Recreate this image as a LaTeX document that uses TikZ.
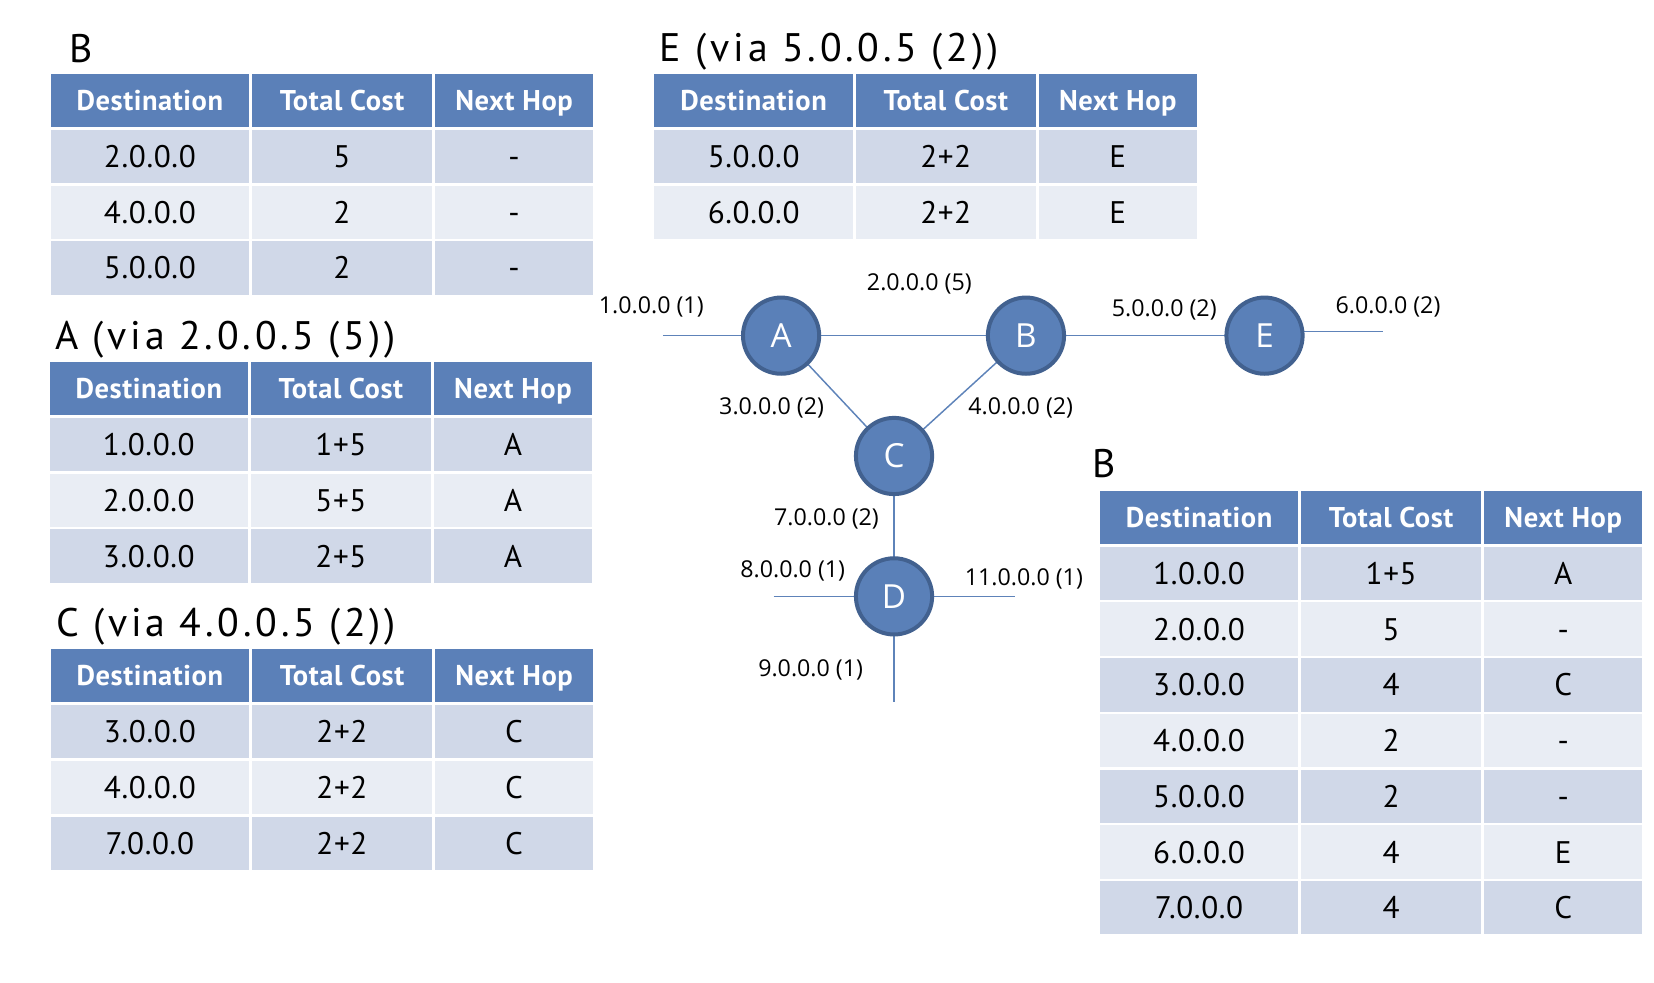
\documentclass[tikz,border=0pt]{standalone}
\usepackage{fontspec}
\setmainfont{Open Sans}
\newfontfamily\tabfont[LetterSpace=2]{PT Sans}
\newfontfamily\ttlfont[LetterSpace=9.5]{PT Sans}
\definecolor{hdrblue}{HTML}{5B80B8}
\definecolor{rowdark}{HTML}{D0D8E8}
\definecolor{rowlight}{HTML}{E9EDF4}
\definecolor{nodefill}{HTML}{5A80B8}
\definecolor{nodeedge}{HTML}{42618F}
\definecolor{linkblue}{HTML}{5E83B9}
\tikzset{
  cellbase/.style={anchor=north west, inner sep=0pt, outer sep=0pt, text depth=0pt},
  hdr/.style={cellbase, fill=hdrblue, text=white, minimum height=50*0.795pt,
    font=\tabfont\bfseries\fontsize{21.5}{24}\selectfont, text height=15pt},
  bodycell/.style={cellbase, minimum height=50.5*0.795pt,
    font=\tabfont\fontsize{23.5}{26}\selectfont, text height=16.5pt},
  ttl/.style={anchor=base west, inner sep=0pt, font=\ttlfont\fontsize{30}{34}\selectfont},
  router/.style={circle, draw=nodeedge, fill=nodefill, line width=3pt, minimum size=57.4pt,
    inner sep=0pt, text=white, font=\fontsize{25}{28}\selectfont},
  link/.style={draw=linkblue, line width=1.1pt},
  lab/.style={inner sep=0pt, font=\fontsize{17.5}{20}\selectfont}
}
\newcommand\rtable[4]{%
  \pgfmathsetmacro\xa{#2+190.5}%
  \pgfmathsetmacro\xb{#2+364}%
  \node[hdr, minimum width=188*0.795pt] (#1-h1) at (#2,#3) {Destination};
  \node[hdr, minimum width=171*0.795pt] (#1-h2) at (\xa,#3) {Total Cost};
  \node[hdr, minimum width=150*0.795pt] (#1-h3) at (\xb,#3) {Next Hop};
  \foreach[count=\i] \d/\c/\h in {#4}{%
    \ifodd\i\def\rc{rowdark}\else\def\rc{rowlight}\fi
    \pgfmathsetmacro\yy{#3+53+(\i-1)*52.8}%
    \node[bodycell, fill=\rc, minimum width=188*0.795pt] (#1-\i-1) at (#2,\yy) {\d};
    \node[bodycell, fill=\rc, minimum width=171*0.795pt] (#1-\i-2) at (\xa,\yy) {\c};
    \node[bodycell, fill=\rc, minimum width=150*0.795pt] (#1-\i-3) at (\xb,\yy) {\h};
  }%
}
\begin{document}
\begin{tikzpicture}[x=0.795pt, y=-0.795pt]
\useasboundingbox (0,0) rectangle (1567,930.4);

% titles
\node[ttl] (t1) at (66,59) {B};
\node[ttl] (t2) at (52,331) {A (via 2.0.0.5 (5))};
\node[ttl] (t3) at (53,603) {C (via 4.0.0.5 (2))};
\node[ttl] (t4) at (625,58) {E (via 5.0.0.5 (2))};
\node[ttl] (t5) at (1035,452) {B};

% tables
\rtable{tb}{48}{70}{2.0.0.0/5/-, 4.0.0.0/2/-, 5.0.0.0/2/-}
\rtable{ta}{47}{343}{1.0.0.0/1+5/A, 2.0.0.0/5+5/A, 3.0.0.0/2+5/A}
\rtable{tc}{48}{615}{3.0.0.0/2+2/C, 4.0.0.0/2+2/C, 7.0.0.0/2+2/C}
\rtable{te}{620}{70}{5.0.0.0/2+2/E, 6.0.0.0/2+2/E}
\rtable{tr}{1042}{465}{1.0.0.0/1+5/A, 2.0.0.0/5/-, 3.0.0.0/4/C, 4.0.0.0/2/-, 5.0.0.0/2/-, 6.0.0.0/4/E, 7.0.0.0/4/C}

% graph
\coordinate (a1) at (628,318);
\coordinate (e1) at (1310,314);
\coordinate (d1) at (733,565);
\coordinate (d2) at (962,565);
\coordinate (d3) at (847,665);
\path (740,318) coordinate (pA) (972,318) coordinate (pB) (1198,318) coordinate (pE)
      (847,432) coordinate (pC) (847,565) coordinate (pD);
\draw[link] (a1) -- (pA) -- (pB) -- (pE);
\draw[link] (pE |- e1) -- (e1);
\draw[link] (pA) -- (pC) -- (pB);
\draw[link] (pC) -- (pD);
\draw[link] (d1) -- (d2);
\draw[link] (pD) -- (d3);
\node[router] (A) at (pA) {A};
\node[router] (B) at (pB) {B};
\node[router] (E) at (pE) {E};
\node[router] (C) at (pC) {C};
\node[router] (D) at (pD) {D};

% link labels
\node[lab] (l1) at (617,291) {1.0.0.0 (1)};
\node[lab] (l2) at (871,269) {2.0.0.0 (5)};
\node[lab] (l5) at (1103,294) {5.0.0.0 (2)};
\node[lab] (l6) at (1315,291) {6.0.0.0 (2)};
\node[lab] (l3) at (731,386) {3.0.0.0 (2)};
\node[lab] (l4) at (967,386) {4.0.0.0 (2)};
\node[lab] (l7) at (783,492) {7.0.0.0 (2)};
\node[lab] (l8) at (751,541) {8.0.0.0 (1)};
\node[lab] (l11) at (970,548) {11.0.0.0 (1)};
\node[lab] (l9) at (768,635) {9.0.0.0 (1)};
\end{tikzpicture}
\end{document}
